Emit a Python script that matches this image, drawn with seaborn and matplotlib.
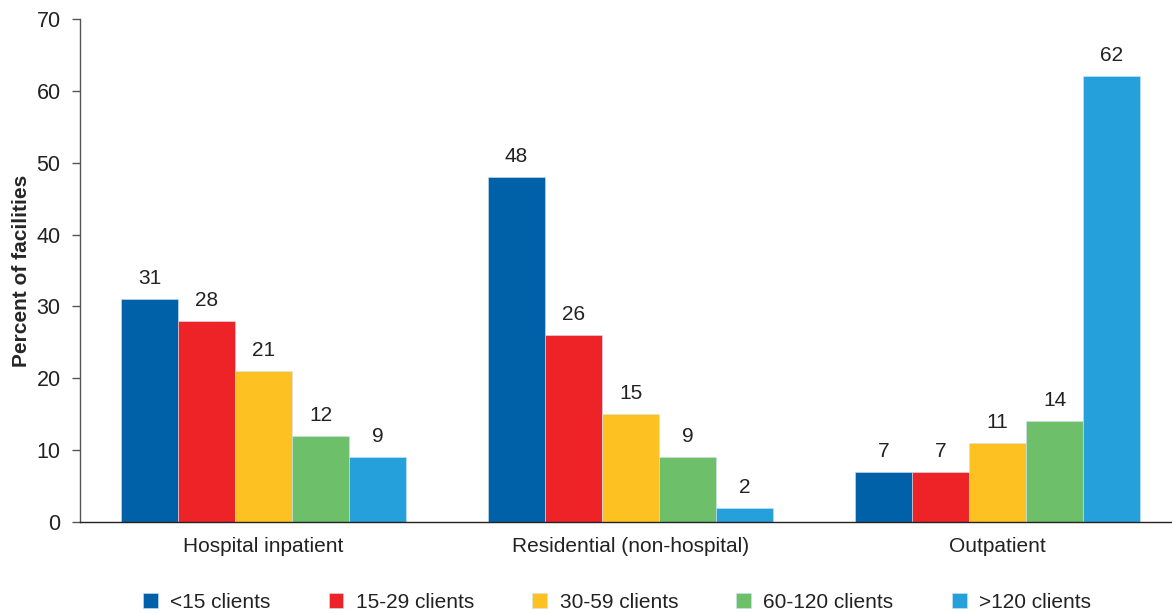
import matplotlib
matplotlib.use("Agg")
import matplotlib.pyplot as plt
import seaborn as sns
import pandas as pd

categories = ["Hospital inpatient", "Residential (non-hospital)", "Outpatient"]
series = ["<15 clients", "15-29 clients", "30-59 clients", "60-120 clients", ">120 clients"]
values = {
    "<15 clients": [31, 48, 7],
    "15-29 clients": [28, 26, 7],
    "30-59 clients": [21, 15, 11],
    "60-120 clients": [12, 9, 14],
    ">120 clients": [9, 2, 62],
}
colors = ["#0060A8", "#EE2328", "#FDC121", "#6DBF6A", "#26A0DA"]
yticks = [0, 10, 20, 30, 40, 50, 60, 70]

rows = []
for s in series:
    for c, v in zip(categories, values[s]):
        rows.append({"cat": c, "series": s, "val": v})
df = pd.DataFrame(rows)

sns.set_style("white")
plt.rcParams["font.family"] = ["Liberation Sans", "DejaVu Sans"]

FS = 15
fig = plt.figure(figsize=(11.72, 6.13), dpi=100)
ax = fig.add_axes([80/1172, 1 - 522/613, (1172-80)/1172, (522-19)/613])

sns.barplot(data=df, x="cat", y="val", hue="series", order=categories,
            hue_order=series, palette=colors, saturation=1, width=0.777, ax=ax,
            edgecolor="#cfe3f3", linewidth=0.4, legend=True)

for cont in ax.containers:
    ax.bar_label(cont, fmt="%d", padding=8, fontsize=FS, color="#222222")

ax.set_ylim(0, 70)
ax.set_yticks(yticks)
ax.set_xlim(-0.5, 2.475)
ax.set_xlabel("")
ax.set_ylabel("Percent of facilities", fontsize=15, fontweight="bold", labelpad=4)
ax.tick_params(axis="y", labelsize=15.5, length=6, width=1, color="#555555", direction="out",
               left=True, pad=8, labelcolor="#222222")
ax.tick_params(axis="x", labelsize=FS, length=0, pad=11, labelcolor="#222222")
sns.despine(ax=ax, top=True, right=True)
ax.spines["left"].set_color("#555555")
ax.spines["bottom"].set_color("#222222")
ax.spines["left"].set_linewidth(1)
ax.spines["bottom"].set_linewidth(1)

h, l = ax.get_legend_handles_labels()
ax.legend_.remove()
fig.legend(h, l, loc="center", bbox_to_anchor=(617/1172, 1 - 602/613), ncol=5,
           frameon=False, fontsize=FS, handlelength=0.7, handleheight=0.7,
           handletextpad=0.6, columnspacing=2.8, labelcolor="#222222")

fig.savefig("out.png", dpi=100)
